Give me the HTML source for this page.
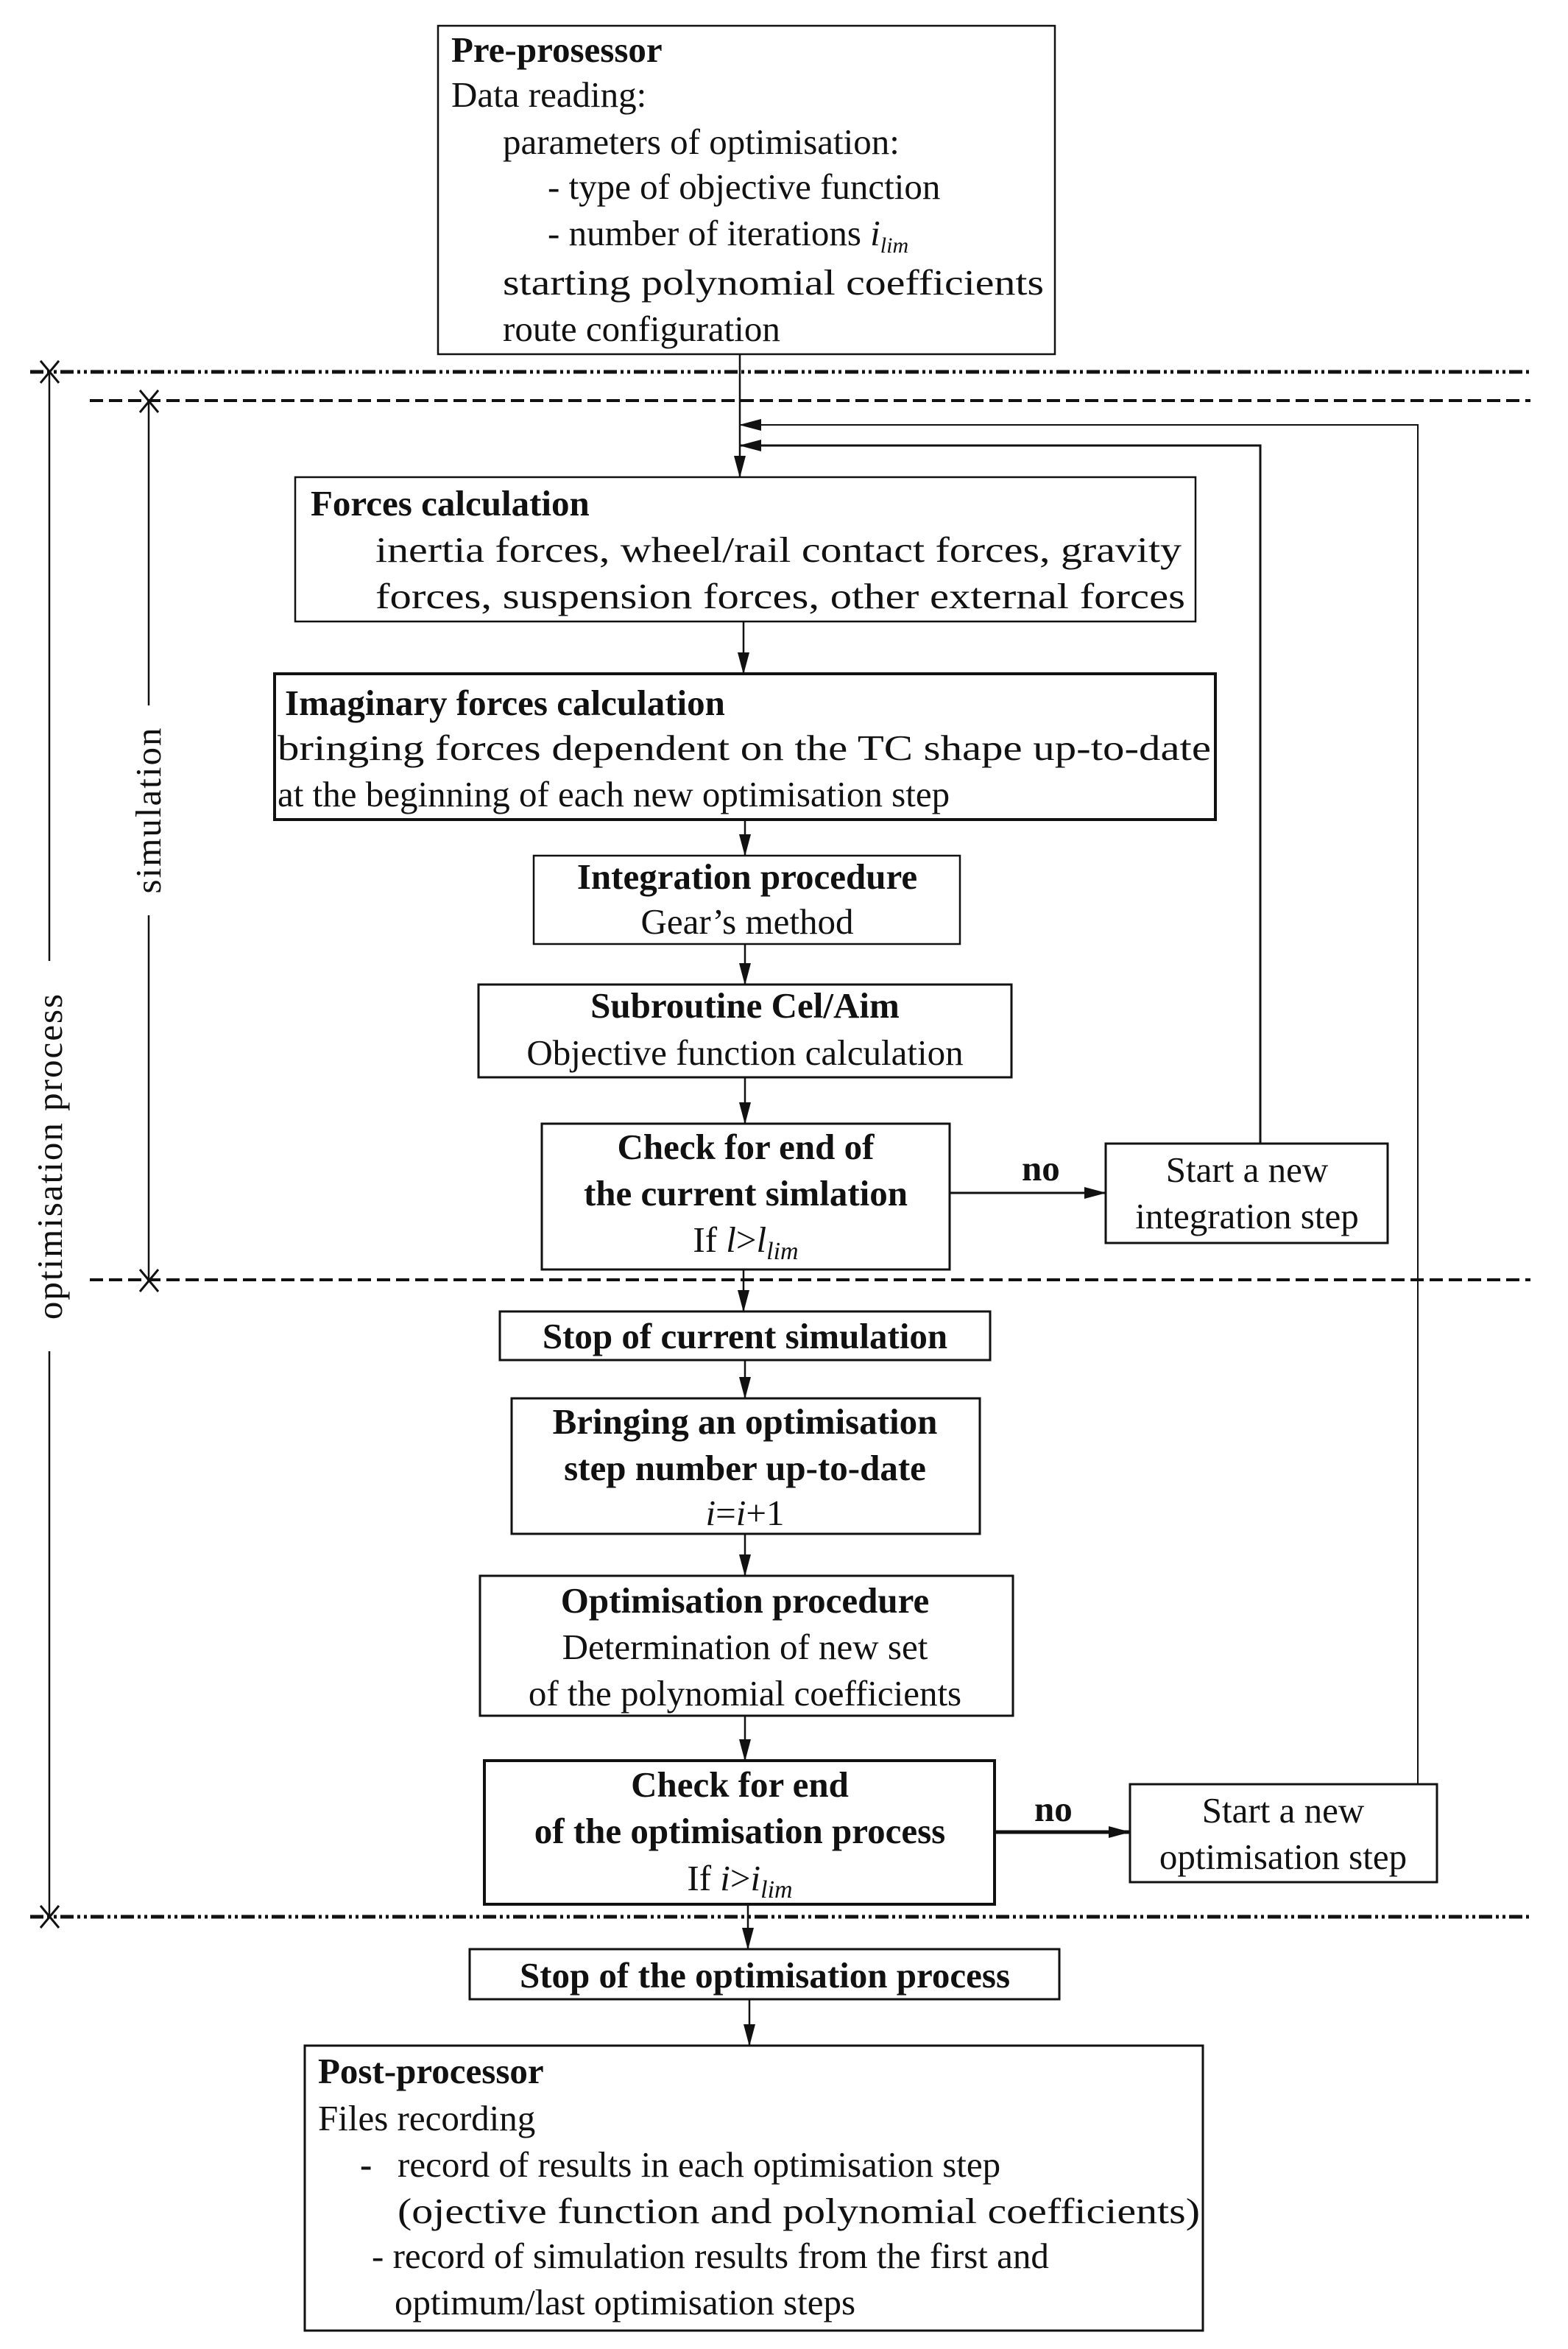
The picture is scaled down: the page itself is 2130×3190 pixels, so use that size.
<!DOCTYPE html>
<html><head><meta charset="utf-8"><style>
html,body{margin:0;padding:0;background:#fff}
svg{display:block}
text{font-family:"Liberation Serif",serif;font-size:49px;fill:#111}
.b{font-weight:bold}
.c{text-anchor:middle}
</style></head><body>
<svg width="2130" height="3190" viewBox="0 0 2130 3190" xmlns="http://www.w3.org/2000/svg">
<defs>
<marker id="a" markerWidth="10" markerHeight="10" refX="9" refY="5" orient="auto" markerUnits="userSpaceOnUse" viewBox="0 0 10 10" style="overflow:visible">
<path d="M0,0 L10,5 L0,10 Z" fill="#111" transform="scale(1)"/>
</marker>
<marker id="A" markerWidth="30" markerHeight="20" refX="29" refY="10" orient="auto" markerUnits="userSpaceOnUse"><path d="M0,2 L30,10 L0,18 Z" fill="#111"/></marker>
</defs>
<g fill="none" stroke="#111" stroke-width="2.5">
<!-- boxes -->
<rect x="595" y="35" width="838" height="446"/>
<rect x="401" y="648" width="1223" height="196"/>
<rect x="373" y="915" width="1278" height="198" stroke-width="4"/>
<rect x="725" y="1162" width="579" height="120"/>
<rect x="650" y="1337" width="724" height="126" stroke-width="3"/>
<rect x="736" y="1526" width="554" height="198" stroke-width="3"/>
<rect x="1502" y="1553" width="383" height="135" stroke-width="3"/>
<rect x="679" y="1781" width="666" height="66" stroke-width="3"/>
<rect x="695" y="1899" width="636" height="184" stroke-width="3"/>
<rect x="652" y="2140" width="724" height="190" stroke-width="3"/>
<rect x="658" y="2391" width="693" height="195" stroke-width="4"/>
<rect x="1535" y="2423" width="417" height="133" stroke-width="3"/>
<rect x="638" y="2647" width="801" height="68" stroke-width="3"/>
<rect x="414" y="2778" width="1220" height="387" stroke-width="3"/>
<!-- separators -->
<line x1="41" y1="505" x2="2079" y2="505" stroke-width="5" stroke-dasharray="18,5,4,5,4,5"/>
<line x1="122" y1="544" x2="2079" y2="544" stroke-width="4" stroke-dasharray="18,8"/>
<line x1="122" y1="1738" x2="2079" y2="1738" stroke-width="4" stroke-dasharray="18,8"/>
<line x1="41" y1="2603" x2="2079" y2="2603" stroke-width="5" stroke-dasharray="18,5,4,5,4,5"/>
<!-- X marks -->
<path d="M55,490 L80,520 M80,490 L55,520 M190,530 L215,560 M215,530 L190,560 M190,1724 L215,1754 M215,1724 L190,1754 M55,2588 L80,2618 M80,2588 L55,2618" stroke-width="3"/>
<!-- dimension lines -->
<line x1="67" y1="505" x2="67" y2="1305"/>
<line x1="67" y1="1835" x2="67" y2="2603"/>
<line x1="202" y1="544" x2="202" y2="958"/>
<line x1="202" y1="1243" x2="202" y2="1738"/>
<!-- main flow -->
<line x1="1005" y1="481" x2="1005" y2="648" marker-end="url(#A)"/>
<line x1="1010" y1="844" x2="1010" y2="915" marker-end="url(#A)"/>
<line x1="1012" y1="1113" x2="1012" y2="1162" marker-end="url(#A)"/>
<line x1="1012" y1="1282" x2="1012" y2="1337" marker-end="url(#A)"/>
<line x1="1012" y1="1463" x2="1012" y2="1526" marker-end="url(#A)"/>
<line x1="1010" y1="1724" x2="1010" y2="1781" marker-end="url(#A)"/>
<line x1="1012" y1="1847" x2="1012" y2="1899" marker-end="url(#A)"/>
<line x1="1012" y1="2083" x2="1012" y2="2140" marker-end="url(#A)"/>
<line x1="1012" y1="2330" x2="1012" y2="2391" marker-end="url(#A)"/>
<line x1="1016" y1="2586" x2="1016" y2="2647" marker-end="url(#A)"/>
<line x1="1018" y1="2715" x2="1018" y2="2778" marker-end="url(#A)"/>
<!-- no arrows -->
<line x1="1290" y1="1620" x2="1502" y2="1620" stroke-width="3" marker-end="url(#A)"/>
<line x1="1351" y1="2488" x2="1535" y2="2488" stroke-width="5" marker-end="url(#A)"/>
<!-- feedback loops -->
<polyline points="1712,1553 1712,605 1005,605" stroke-width="3" marker-end="url(#A)"/>
<polyline points="1926,2423 1926,577 1005,577" stroke-width="2" marker-end="url(#A)"/>
</g>
<g>
<text x="613" y="84" class="b">Pre-prosessor</text>
<text x="613" y="145">Data reading:</text>
<text x="683" y="209">parameters of optimisation:</text>
<text x="744" y="270">- type of objective function</text>
<text x="744" y="333">- number of iterations <tspan font-style="italic">i</tspan><tspan font-style="italic" font-size="30" dy="10">lim</tspan></text>
<text x="683" y="400" textLength="735" lengthAdjust="spacingAndGlyphs">starting polynomial coefficients</text>
<text x="683" y="463">route configuration</text>

<text x="422" y="700" class="b">Forces calculation</text>
<text x="510" y="763" textLength="1095" lengthAdjust="spacingAndGlyphs">inertia forces, wheel/rail contact forces, gravity</text>
<text x="510" y="826" textLength="1100" lengthAdjust="spacingAndGlyphs">forces,  suspension forces, other external forces</text>

<text x="387" y="971" class="b">Imaginary forces calculation</text>
<text x="377" y="1032" textLength="1268" lengthAdjust="spacingAndGlyphs">bringing forces dependent on the TC shape up-to-date</text>
<text x="377" y="1095">at the beginning of each new optimisation step</text>

<text x="1015" y="1207" class="b c">Integration procedure</text>
<text x="1015" y="1268" class="c">Gear’s method</text>
<text x="1012" y="1382" class="b c">Subroutine Cel/Aim</text>
<text x="1012" y="1446" class="c">Objective function calculation</text>
<text x="1013" y="1574" class="b c">Check for end of</text>
<text x="1013" y="1637" class="b c">the current simlation</text>
<text x="1013" y="1700" class="c">If <tspan font-style="italic">l</tspan>&gt;<tspan font-style="italic">l</tspan><tspan font-style="italic" font-size="34" dy="10">lim</tspan></text>
<text x="1388" y="1603" class="b">no</text>
<text x="1694" y="1605" class="c">Start a new</text>
<text x="1694" y="1668" class="c">integration step</text>

<text x="1012" y="1831" class="b c">Stop of current simulation</text>
<text x="1012" y="1947" class="b c">Bringing an optimisation</text>
<text x="1012" y="2010" class="b c">step number up-to-date</text>
<text x="1012" y="2071" class="c" font-style="italic">i<tspan font-style="normal">=</tspan>i<tspan font-style="normal">+1</tspan></text>
<text x="1012" y="2190" class="b c">Optimisation procedure</text>
<text x="1012" y="2253" class="c">Determination of new set</text>
<text x="1012" y="2316" class="c">of the polynomial coefficients</text>
<text x="1005" y="2440" class="b c">Check for end</text>
<text x="1005" y="2503" class="b c">of the optimisation process</text>
<text x="1005" y="2567" class="c">If <tspan font-style="italic">i</tspan>&gt;<tspan font-style="italic">i</tspan><tspan font-style="italic" font-size="34" dy="10">lim</tspan></text>
<text x="1405" y="2473" class="b">no</text>
<text x="1743" y="2475" class="c">Start a new</text>
<text x="1743" y="2538" class="c">optimisation step</text>

<text x="1039" y="2699" class="b c">Stop of the optimisation process</text>
<text x="432" y="2829" class="b">Post-processor</text>
<text x="432" y="2893">Files recording</text>
<text x="489" y="2956" class="b">-</text>
<text x="540" y="2956">record of results in each optimisation step</text>
<text x="540" y="3019" textLength="1090" lengthAdjust="spacingAndGlyphs">(ojective function and polynomial coefficients)</text>
<text x="505" y="3080">- record of simulation results from the first and</text>
<text x="536" y="3143">optimum/last optimisation steps</text>

<text transform="translate(84,1570) rotate(-90)" class="c" font-size="48" letter-spacing="2">optimisation process</text>
<text transform="translate(218,1100) rotate(-90)" class="c" font-size="48" letter-spacing="2">simulation</text>
</g>
</svg>
</body></html>
